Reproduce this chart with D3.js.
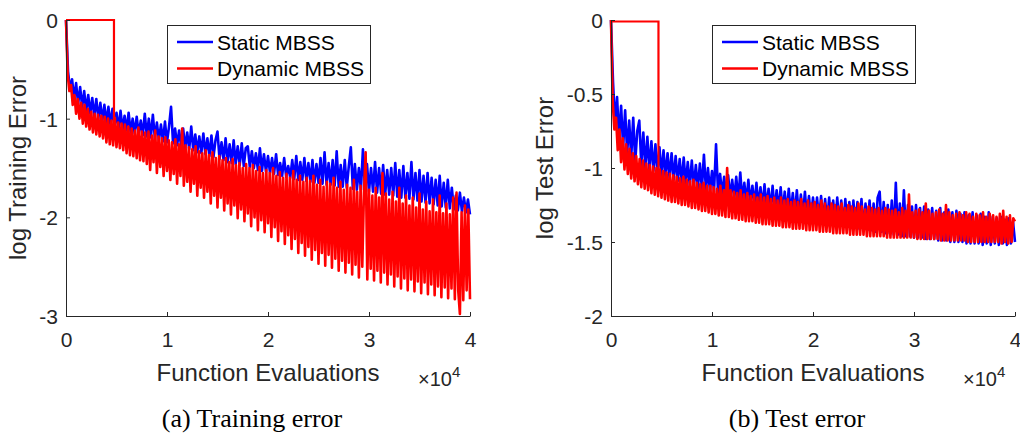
<!DOCTYPE html>
<html>
<head>
<meta charset="utf-8">
<script src="https://cdn.jsdelivr.net/npm/d3@7"></script>
<style>
body { margin: 0; background: #fff; }
text { font-family: "Liberation Sans", Arial, sans-serif; fill: #262626; }
.caption { font-family: "Liberation Serif", "Times New Roman", serif; fill: #000; }
</style>
</head>
<body>
<script>
// every run covers 0 .. 4 (x 10^4) function evaluations, samples evenly spaced
var maxEvals = 4;

var seriesNames = ["Static MBSS", "Dynamic MBSS"];

// (a) training error (log), static: 201 samples
var trainStatic = [
	0, -0.52, -0.7, -0.6, -0.8, -0.64, -0.85, -0.68, -0.88, -0.72,
	-0.92, -0.76, -0.95, -0.79, -0.98, -0.8, -1.0, -0.84, -1.02, -0.86,
	-1.04, -0.88, -1.06, -0.9, -1.08, -0.94, -1.1, -0.92, -1.11, -0.97,
	-1.12, -0.94, -1.14, -1.0, -1.15, -0.98, -1.16, -1.02, -1.17, -0.95,
	-1.18, -1.0, -1.19, -0.96, -1.2, -1.04, -1.22, -1.06, -1.23, -1.03,
	-1.24, -1.08, -0.88, -1.25, -1.1, -1.27, -1.12, -1.28, -1.1, -1.3,
	-1.14, -1.31, -1.08, -1.32, -1.16, -1.34, -1.18, -1.35, -1.15, -1.36,
	-1.2, -1.38, -1.17, -1.39, -1.22, -1.13, -1.41, -1.24, -1.42, -1.2,
	-1.44, -1.26, -1.45, -1.22, -1.46, -1.28, -1.47, -1.25, -1.48, -1.3,
	-1.28, -1.49, -1.33, -1.5, -1.35, -1.52, -1.3, -1.53, -1.36, -1.54,
	-1.38, -1.55, -1.4, -1.56, -1.36, -1.57, -1.45, -1.58, -1.4, -1.59,
	-1.48, -1.6, -1.42, -1.61, -1.38, -1.62, -1.44, -1.62, -1.4, -1.63,
	-1.45, -1.64, -1.42, -1.65, -1.46, -1.65, -1.4, -1.66, -1.34, -1.67,
	-1.45, -1.67, -1.42, -1.68, -1.33, -1.69, -1.47, -1.69, -1.42, -1.7,
	-1.48, -1.29, -1.71, -1.46, -1.72, -1.5, -1.72, -1.31, -1.73, -1.46,
	-1.74, -1.5, -1.74, -1.44, -1.75, -1.5, -1.76, -1.47, -1.77, -1.52,
	-1.77, -1.5, -1.78, -1.45, -1.79, -1.52, -1.8, -1.48, -1.8, -1.55,
	-1.81, -1.44, -1.82, -1.55, -1.83, -1.52, -1.84, -1.58, -1.85, -1.55,
	-1.86, -1.6, -1.87, -1.62, -1.88, -1.58, -1.89, -1.65, -1.9, -1.62,
	-1.91, -1.7, -1.92, -1.78, -1.93, -1.75, -1.94, -1.8, -1.95, -1.82,
	-1.97
];

// (a) training error (log), dynamic: 241 samples
var trainDynamic = [
	0, -0.55, -0.72, -0.66, -0.86, -0.76, -0.95, -0.8, -1.0, -0.84, -1.05, -0.86,
	-1.08, -0.9, -1.11, -0.93, -1.14, -0.95, -1.16, -0.96, -1.18, -0.97, -1.2, -0.98,
	-1.24, -1.0, -1.26, -1.02, -1.27, -0.99, -1.29, -1.04, -1.3, -1.05, -1.32, -1.06,
	-1.35, -1.08, -1.37, -1.1, -1.38, -1.12, -1.4, -1.09, -1.42, -1.13, -1.43, -1.14,
	-1.46, -1.13, -1.52, -1.17, -1.44, -1.12, -1.55, -1.18, -1.49, -1.2, -1.58, -1.19,
	-1.53, -1.22, -1.62, -1.24, -1.56, -1.21, -1.66, -1.26, -1.58, -1.1, -1.68, -1.27,
	-1.64, -1.29, -1.74, -1.31, -1.66, -1.28, -1.78, -1.33, -1.7, -1.35, -1.8, -1.32,
	-1.74, -1.37, -1.86, -1.34, -1.78, -1.4, -1.9, -1.38, -1.8, -1.42, -1.93, -1.4,
	-1.86, -1.44, -1.97, -1.41, -1.88, -1.47, -2.01, -1.45, -1.92, -1.5, -2.04, -1.46,
	-1.96, -1.5, -2.09, -1.47, -2.0, -1.53, -2.13, -1.49, -2.03, -1.55, -2.15, -1.52,
	-2.06, -1.55, -2.2, -1.5, -2.1, -1.58, -2.24, -1.54, -2.14, -1.6, -2.27, -1.56,
	-2.18, -1.6, -2.32, -1.53, -2.22, -1.62, -2.36, -1.58, -2.26, -1.64, -2.39, -1.6,
	-2.3, -1.63, -2.43, -1.58, -2.33, -1.67, -2.47, -1.62, -2.36, -1.69, -2.49, -1.64,
	-2.38, -1.66, -2.51, -1.6, -2.42, -1.7, -2.54, -1.64, -2.44, -1.72, -2.56, -1.67,
	-2.46, -1.7, -2.58, -1.62, -2.48, -1.74, -2.61, -1.68, -2.5, -1.75, -1.34, -2.63,
	-1.72, -2.52, -1.78, -2.64, -1.7, -2.54, -1.8, -2.66, -1.55, -2.56, -1.76, -2.68,
	-1.82, -2.58, -1.74, -2.7, -1.84, -2.6, -1.7, -2.72, -1.86, -2.62, -1.78, -2.74,
	-1.88, -2.63, -1.8, -2.75, -1.9, -2.65, -1.76, -2.77, -1.92, -2.66, -1.84, -2.78,
	-1.94, -2.68, -1.82, -2.79, -1.95, -2.7, -1.78, -2.81, -1.96, -2.71, -1.86, -2.82,
	-1.97, -2.72, -1.8, -2.83, -1.75, -2.74, -2.98, -1.95, -2.84, -1.88, -2.74, -1.92,
	-2.83
];

// (b) test error (log), static: 201 samples
var testStatic = [
	0, -0.42, -0.7, -0.52, -0.8, -0.58, -0.86, -0.61, -0.9, -0.68,
	-0.93, -0.66, -0.96, -0.75, -0.68, -0.98, -0.76, -1.0, -0.79, -1.01,
	-0.82, -1.02, -0.84, -1.04, -0.86, -1.05, -0.88, -1.06, -0.9, -1.07,
	-0.9, -1.08, -0.92, -1.09, -0.94, -1.1, -0.93, -1.11, -0.96, -1.12,
	-0.95, -1.13, -0.98, -1.14, -0.97, -1.14, -0.91, -1.15, -1.0, -1.16,
	-1.02, -1.16, -0.84, -1.17, -1.04, -1.18, -1.06, -1.19, -1.05, -1.2,
	-1.08, -1.21, -1.06, -1.22, -1.03, -1.22, -1.1, -1.23, -1.08, -1.24,
	-1.12, -1.25, -1.1, -1.26, -1.13, -1.27, -1.11, -1.27, -1.14, -1.28,
	-1.12, -1.29, -1.15, -1.29, -1.13, -1.3, -1.16, -1.31, -1.14, -1.31,
	-1.17, -1.32, -1.15, -1.33, -1.18, -1.33, -1.16, -1.34, -1.19, -1.34,
	-1.2, -1.35, -1.2, -1.35, -1.19, -1.36, -1.21, -1.37, -1.2, -1.37,
	-1.22, -1.38, -1.2, -1.38, -1.22, -1.39, -1.21, -1.39, -1.23, -1.4,
	-1.22, -1.4, -1.23, -1.41, -1.21, -1.41, -1.24, -1.42, -1.22, -1.42,
	-1.24, -1.43, -1.2, -1.16, -1.43, -1.23, -1.44, -1.25, -1.44, -1.22,
	-1.45, -1.1, -1.45, -1.24, -1.46, -1.15, -1.46, -1.25, -1.46, -1.26,
	-1.47, -1.25, -1.47, -1.27, -1.47, -1.26, -1.48, -1.28, -1.48, -1.27,
	-1.48, -1.29, -1.49, -1.27, -1.49, -1.3, -1.49, -1.28, -1.5, -1.3,
	-1.5, -1.29, -1.5, -1.31, -1.5, -1.3, -1.51, -1.32, -1.51, -1.3,
	-1.51, -1.32, -1.51, -1.31, -1.52, -1.33, -1.51, -1.3, -1.52, -1.33,
	-1.51, -1.34, -1.52, -1.33, -1.51, -1.35, -1.52, -1.34, -1.51, -1.36,
	-1.5
];

// (b) test error (log), dynamic: 241 samples
var testDynamic = [
	0, -0.55, -0.74, -0.66, -0.88, -0.74, -0.96, -0.8, -1.01, -0.84, -1.04, -0.87,
	-1.07, -0.9, -1.09, -0.92, -1.11, -0.94, -1.13, -0.95, -1.14, -0.97, -1.15, -0.98,
	-1.17, -0.99, -1.18, -1.0, -1.19, -1.01, -1.2, -1.02, -1.21, -1.03, -1.22, -1.04,
	-1.23, -1.05, -1.23, -1.06, -1.24, -1.07, -1.25, -1.06, -1.25, -1.08, -1.26, -1.09,
	-1.27, -1.08, -1.27, -1.1, -1.28, -1.11, -1.29, -1.1, -1.29, -1.12, -1.3, -1.12,
	-1.31, -1.13, -1.31, -1.14, -1.32, -1.12, -1.32, -1.15, -1.33, -1.0, -1.33, -1.15,
	-1.34, -1.16, -1.34, -1.17, -1.35, -1.15, -1.35, -1.18, -1.36, -1.17, -1.36, -1.19,
	-1.36, -1.18, -1.37, -1.2, -1.37, -1.18, -1.38, -1.2, -1.38, -1.19, -1.38, -1.21,
	-1.39, -1.2, -1.39, -1.22, -1.39, -1.2, -1.4, -1.22, -1.4, -1.21, -1.4, -1.23,
	-1.41, -1.22, -1.41, -1.23, -1.41, -1.21, -1.41, -1.24, -1.42, -1.22, -1.42, -1.24,
	-1.42, -1.23, -1.42, -1.25, -1.43, -1.22, -1.43, -1.24, -1.43, -1.26, -1.43, -1.24,
	-1.44, -1.25, -1.44, -1.26, -1.44, -1.24, -1.44, -1.27, -1.44, -1.25, -1.45, -1.26,
	-1.45, -1.27, -1.45, -1.24, -1.45, -1.26, -1.45, -1.28, -1.46, -1.26, -1.46, -1.27,
	-1.46, -1.28, -1.46, -1.27, -1.46, -1.29, -1.46, -1.27, -1.47, -1.28, -1.47, -1.29,
	-1.47, -1.28, -1.47, -1.3, -1.47, -1.27, -1.47, -1.29, -1.47, -1.18, -1.47, -1.3,
	-1.47, -1.29, -1.48, -1.28, -1.48, -1.3, -1.48, -1.24, -1.48, -1.29, -1.48, -1.31,
	-1.48, -1.3, -1.48, -1.28, -1.49, -1.31, -1.49, -1.25, -1.49, -1.3, -1.49, -1.32,
	-1.49, -1.31, -1.49, -1.3, -1.49, -1.32, -1.49, -1.3, -1.5, -1.31, -1.5, -1.33,
	-1.5, -1.31, -1.5, -1.32, -1.5, -1.3, -1.5, -1.33, -1.5, -1.31, -1.5, -1.32,
	-1.5, -1.33, -1.5, -1.31, -1.51, -1.29, -1.5, -1.33, -1.51, -1.32, -1.5, -1.34,
	-1.36
];

// the dynamic run holds its first error flat before it starts updating
var trainStepX = [0, 0.475, 0.475];
var trainStepY = [0, 0, -1.08];
var testStepX = [0, 0.47, 0.47];
var testStepY = [-0.01, -0.01, -1.06];

var xTicks = [0, 1, 2, 3, 4];
var trainYTicks = [-3, -2, -1, 0];
var testYTicks = [-2, -1.5, -1, -0.5, 0];

var colors = ["#0000ff", "#ff0000"];
var lineWidth = 2.6;

var svg = d3.select("body").append("svg")
	.attr("width", 1020)
	.attr("height", 435);

function toPoints(values) {
	var step = maxEvals / (values.length - 1);
	return values.map((v, i) => [i * step, v]);
}

function drawPanel(p) {
	var xScale = d3.scaleLinear().domain([0, maxEvals]).range([p.left, p.left + 404]);
	var yScale = d3.scaleLinear().domain(p.yDomain).range([316, 20]);

	var line = d3.line()
		.x(d => xScale(d[0]))
		.y(d => yScale(d[1]));

	var g = svg.append("g");

	// series: static first, dynamic drawn over it
	g.append("path")
		.datum(toPoints(p.staticVals))
		.attr("d", line)
		.style("fill", "none")
		.style("stroke", colors[0])
		.style("stroke-width", lineWidth)
		.style("stroke-linejoin", "round");

	g.append("path")
		.datum(toPoints(p.dynamicVals))
		.attr("d", line)
		.style("fill", "none")
		.style("stroke", colors[1])
		.style("stroke-width", lineWidth)
		.style("stroke-linejoin", "round");

	g.append("path")
		.datum(p.stepX.map((x, i) => [x, p.stepY[i]]))
		.attr("d", line)
		.style("fill", "none")
		.style("stroke", colors[1])
		.style("stroke-width", 2.2);

	// axes, ticks inward like matlab
	var xAxis = d3.axisBottom(xScale)
		.tickValues(xTicks)
		.tickFormat(d3.format("d"))
		.tickSizeInner(-4)
		.tickSizeOuter(0)
		.tickPadding(16);

	var yAxis = d3.axisLeft(yScale)
		.tickValues(p.yTicks)
		.tickFormat(d => String(d))
		.tickSizeInner(-4)
		.tickSizeOuter(0)
		.tickPadding(8);

	var xg = g.append("g")
		.attr("transform", "translate(0,316)")
		.call(xAxis);
	var yg = g.append("g")
		.attr("transform", "translate(" + p.left + ",0)")
		.call(yAxis);

	[xg, yg].forEach(a => {
		a.selectAll("path, line").style("stroke", "#262626").style("stroke-width", 1);
		a.selectAll("text").style("font-size", "21px").style("fill", "#262626")
			.style("font-family", "'Liberation Sans', Arial, sans-serif");
	});
	yg.selectAll("text").attr("dy", "0.36em");

	// axis labels
	g.append("text")
		.attr("x", p.left + 202)
		.attr("y", 381)
		.attr("text-anchor", "middle")
		.style("font-size", "24px")
		.text("Function Evaluations");

	var exp = g.append("text")
		.attr("x", p.left + 352)
		.attr("y", 386)
		.style("font-size", "20px");
	exp.append("tspan").text("\u00d710");
	exp.append("tspan").attr("dy", -9).style("font-size", "15px").text("4");

	g.append("text")
		.attr("transform", "translate(" + p.ylabelX + ",168) rotate(-90)")
		.attr("text-anchor", "middle")
		.style("font-size", "24px")
		.text(p.ylabel);

	// legend
	var lx = p.left + 101;
	var legend = g.append("g");
	legend.append("rect")
		.attr("x", lx + 0.5)
		.attr("y", 25.5)
		.attr("width", 203)
		.attr("height", 58)
		.style("fill", "#fff")
		.style("stroke", "#262626")
		.style("stroke-width", 1);
	seriesNames.forEach((name, i) => {
		var ly = 42 + i * 26.5;
		legend.append("line")
			.attr("x1", lx + 10).attr("x2", lx + 46)
			.attr("y1", ly).attr("y2", ly)
			.style("stroke", colors[i])
			.style("stroke-width", 2.4);
		legend.append("text")
			.attr("x", lx + 50)
			.attr("y", ly + 7.5)
			.style("font-size", "21px")
			.style("fill", "#000")
			.text(name);
	});

	// caption
	svg.append("text")
		.attr("class", "caption")
		.attr("x", p.captionX)
		.attr("y", 427)
		.attr("text-anchor", "middle")
		.style("font-size", "26px")
		.text(p.caption);
}

drawPanel({
	left: 66,
	yDomain: [-3, 0],
	yTicks: trainYTicks,
	staticVals: trainStatic,
	dynamicVals: trainDynamic,
	stepX: trainStepX,
	stepY: trainStepY,
	ylabel: "log Training Error",
	ylabelX: 26,
	caption: "(a) Training error",
	captionX: 252
});

drawPanel({
	left: 611,
	yDomain: [-2, 0],
	yTicks: testYTicks,
	staticVals: testStatic,
	dynamicVals: testDynamic,
	stepX: testStepX,
	stepY: testStepY,
	ylabel: "log Test Error",
	ylabelX: 553,
	caption: "(b) Test error",
	captionX: 797
});
</script>
</body>
</html>
